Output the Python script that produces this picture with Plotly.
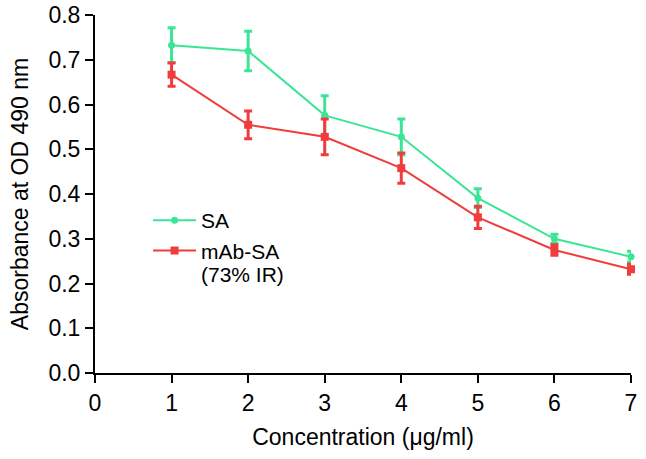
import plotly.graph_objects as go

conc = [1, 2, 3, 4, 5, 6, 7]
sa_mean = [0.733, 0.720, 0.576, 0.528, 0.391, 0.300, 0.260]
sa_err = [0.039, 0.044, 0.044, 0.040, 0.021, 0.010, 0.012]
mab_mean = [0.667, 0.555, 0.528, 0.458, 0.348, 0.275, 0.232]
mab_err = [0.026, 0.031, 0.040, 0.034, 0.025, 0.012, 0.011]

x_ticks = [0, 1, 2, 3, 4, 5, 6, 7]
y_ticks = [0.0, 0.1, 0.2, 0.3, 0.4, 0.5, 0.6, 0.7, 0.8]

GREEN = "#3ce596"
RED = "#f03c3c"
FONT = "Liberation Sans, Arial, Helvetica, sans-serif"

fig = go.Figure()
fig.add_trace(go.Scatter(
    x=conc, y=sa_mean, name="SA", mode="lines+markers", legendgroup="a",
    line=dict(color=GREEN, width=2),
    marker=dict(symbol="circle", size=7, color=GREEN),
    error_y=dict(type="data", array=sa_err, color=GREEN, thickness=3, width=4),
    cliponaxis=False,
))
fig.add_trace(go.Scatter(
    x=conc, y=mab_mean, name="mAb-SA", mode="lines+markers", legendgroup="b",
    line=dict(color=RED, width=2),
    marker=dict(symbol="square", size=8, color=RED),
    error_y=dict(type="data", array=mab_err, color=RED, thickness=3, width=4),
    cliponaxis=False,
))

fig.update_layout(
    width=646, height=459,
    margin=dict(l=95, r=15, t=15, b=86),
    paper_bgcolor="white", plot_bgcolor="white",
    font=dict(family=FONT, size=23, color="black"),
    showlegend=True,
    legend=dict(
        x=0.099, y=0.483, xanchor="left", yanchor="top",
        bgcolor="rgba(0,0,0,0)", font=dict(size=21),
        tracegroupgap=0, itemwidth=43, traceorder="grouped",
    ),
    annotations=[dict(
        text="(73% IR)", xref="paper", yref="paper", x=0.194, y=0.2765,
        xanchor="left", yanchor="middle", showarrow=False,
        font=dict(size=21, family=FONT, color="black"),
    )],
    xaxis=dict(
        range=[0, 7], tickvals=x_ticks, ticktext=[str(v) for v in x_ticks],
        showgrid=False, zeroline=False, showline=True, linecolor="black", linewidth=2,
        ticks="outside", ticklen=8, tickwidth=2, tickcolor="black",
        title=dict(text="Concentration (μg/ml)", font=dict(size=23), standoff=14),
        automargin=False,
    ),
    yaxis=dict(
        range=[0, 0.8004], tickvals=y_ticks, ticktext=[f"{v:.1f}" for v in y_ticks],
        showgrid=False, zeroline=False, showline=True, linecolor="black", linewidth=2,
        ticks="outside", ticklen=8, tickwidth=2, tickcolor="black",
        ticklabeloverflow="allow",
        title=dict(text="Absorbance at OD 490 nm", font=dict(size=23), standoff=13),
        automargin=False,
    ),
)

fig.write_html("out.html", config={"displayModeBar": False},
               post_script="document.body.style.margin='0';")
